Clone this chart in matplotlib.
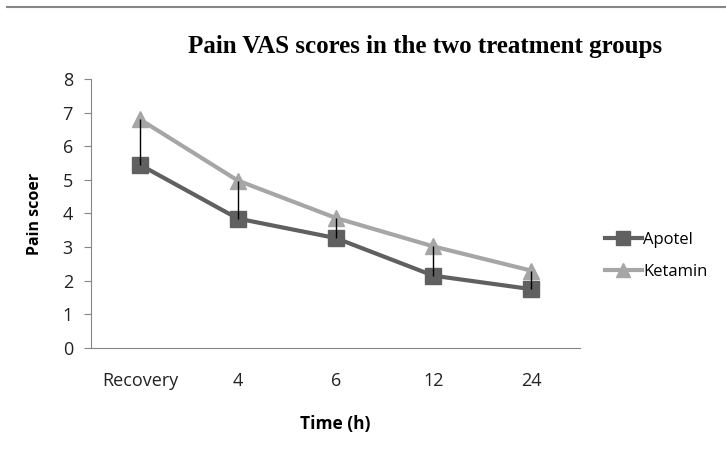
import matplotlib.pyplot as plt
from matplotlib.lines import Line2D

categories = ["Recovery", "4", "6", "12", "24"]
apotel = [5.45, 3.85, 3.27, 2.15, 1.75]
ketamin = [6.8, 4.98, 3.87, 3.02, 2.3]

fig = plt.figure(figsize=(7.26, 4.53), dpi=100)
ax = fig.add_axes([0.1253, 0.2318, 0.674, 0.5938])

x = list(range(len(categories)))

# high-low lines between the two series
ax.vlines(x, apotel, ketamin, color="black", linewidth=1, zorder=4)

ax.plot(x, apotel, color="#606060", linewidth=3, marker="s", markersize=11,
        label="Apotel", zorder=3)
ax.plot(x, ketamin, color="#A6A6A6", linewidth=3, marker="^", markersize=11,
        label="Ketamin", zorder=2)

ax.set_xlim(-0.5, 4.5)
ax.set_ylim(0, 8)
ax.set_xticks(x)
ax.set_xticklabels(categories)
ax.set_yticks(range(0, 9))

for s in ["top", "right"]:
    ax.spines[s].set_visible(False)
for s in ["left", "bottom"]:
    ax.spines[s].set_color("#868686")
ax.tick_params(axis="y", length=5, color="#868686", labelsize=13, pad=8)
ax.tick_params(axis="x", length=0, labelsize=13, pad=17)
for lbl in ax.get_xticklabels() + ax.get_yticklabels():
    lbl.set_family("Open Sans")
    lbl.set_color("#222222")

ax.set_xlabel("Time (h)", fontsize=12.5, fontweight="bold", family="Open Sans", labelpad=18)
ax.set_ylabel("Pain scoer", fontsize=11.5, fontweight="bold", family="Open Sans", labelpad=14)

fig.text(0.585, 0.897, "Pain VAS scores in the two treatment groups", ha="center",
         va="center", fontsize=18, fontweight="bold", family="Liberation Serif")

ax.legend(loc="center left", bbox_to_anchor=(1.02, 0.342), frameon=False,
          prop={"family": "Open Sans", "size": 12}, handlelength=2.2,
          handletextpad=0.1, labelspacing=0.95, markerscale=0.9)

# border line at the top of the image
fig.add_artist(Line2D([0.01, 1.0], [0.985, 0.985], color="#868686", linewidth=1.5))

plt.savefig("out.png", dpi=100)
plt.close()
